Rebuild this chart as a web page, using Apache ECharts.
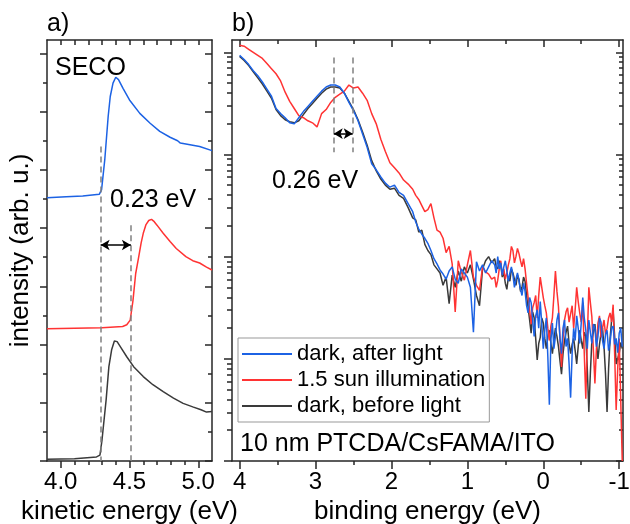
<!DOCTYPE html>
<html>
<head>
<meta charset="utf-8">
<title>SECO and HOMO region</title>
<script src="https://cdn.jsdelivr.net/npm/echarts@6/dist/echarts.min.js"></script>
<style>
  html, body { margin: 0; padding: 0; background: #fff; }
  #plot { width: 630px; height: 524px; }
</style>
</head>
<body>
<div id="plot"></div>
<script>
"use strict";

// a) secondary electron cut-off, kinetic energy (eV) vs. offset intensity
var keBlue = [3.90, 4.04, 4.16, 4.28, 4.297, 4.32, 4.345, 4.36, 4.38, 4.40, 4.42, 4.453, 4.50, 4.575, 4.65, 4.72, 4.795, 4.85, 4.87, 4.94, 5.01, 5.10];
var secoBlue = [4.52, 4.54, 4.55, 4.58, 4.66, 5.17, 5.92, 6.26, 6.49, 6.59, 6.55, 6.40, 6.20, 5.97, 5.80, 5.66, 5.56, 5.50, 5.46, 5.43, 5.40, 5.33];
var keRed = [3.90, 4.10, 4.30, 4.45, 4.48, 4.505, 4.525, 4.545, 4.565, 4.585, 4.60, 4.62, 4.64, 4.66, 4.68, 4.70, 4.745, 4.795, 4.84, 4.91, 4.96, 5.01, 5.06, 5.10];
var secoRed = [2.27, 2.28, 2.29, 2.31, 2.34, 2.42, 2.75, 3.22, 3.48, 3.75, 3.91, 4.06, 4.13, 4.15, 4.11, 4.05, 3.91, 3.77, 3.65, 3.51, 3.44, 3.40, 3.33, 3.28];
var keBlack = [3.90, 4.10, 4.26, 4.285, 4.30, 4.33, 4.35, 4.37, 4.39, 4.41, 4.44, 4.48, 4.53, 4.60, 4.67, 4.745, 4.82, 4.89, 4.96, 5.02, 5.06, 5.10];
var secoBlack = [0.03, 0.04, 0.07, 0.10, 0.36, 1.05, 1.62, 1.91, 2.06, 2.05, 1.94, 1.79, 1.62, 1.45, 1.31, 1.19, 1.08, 0.99, 0.93, 0.88, 0.84, 0.85];

// b) valence region, binding energy (eV) vs. log10 of the counts
var bindingEnergy = [4.00, 3.94, 3.88, 3.82, 3.76, 3.70, 3.64, 3.58, 3.52, 3.46, 3.40, 3.34, 3.28, 3.22, 3.16, 3.10, 3.04, 2.98, 2.92, 2.86,
  2.80, 2.74, 2.68, 2.62, 2.56, 2.50, 2.44, 2.38, 2.32, 2.26, 2.20, 2.14, 2.08, 2.02, 1.96, 1.90, 1.84, 1.78, 1.72,
  1.68, 1.64, 1.60, 1.56, 1.52, 1.48, 1.44, 1.40, 1.36, 1.32, 1.28, 1.24, 1.20, 1.16, 1.12, 1.08, 1.04, 1.00, 0.96, 0.92,
  0.88, 0.84, 0.80, 0.76, 0.72, 0.68,
  0.64, 0.62, 0.60, 0.58, 0.56, 0.54, 0.52, 0.50, 0.48, 0.46,
  0.44, 0.42, 0.40, 0.38, 0.36, 0.34, 0.32, 0.30, 0.28, 0.26,
  0.24, 0.22, 0.20, 0.18, 0.16, 0.14, 0.12, 0.10, 0.08, 0.06,
  0.04, 0.02, 0.00, -0.02, -0.04, -0.06, -0.08, -0.10, -0.12, -0.14,
  -0.16, -0.18, -0.20, -0.22, -0.24, -0.26, -0.28, -0.30, -0.32, -0.34,
  -0.36, -0.38, -0.40, -0.42, -0.44, -0.46, -0.48, -0.50, -0.52, -0.54,
  -0.56, -0.58, -0.60, -0.62, -0.64, -0.66, -0.68, -0.70, -0.72, -0.74,
  -0.76, -0.78, -0.80, -0.82, -0.84, -0.86, -0.88, -0.90, -0.92, -0.94,
  -0.96, -0.98, -1.00, -1.02, -1.04];
var logAfterLight = [3.97, 3.93, 3.88, 3.82, 3.77, 3.71, 3.64, 3.57, 3.45, 3.40, 3.36, 3.31, 3.30, 3.36, 3.42, 3.47, 3.52, 3.57, 3.62, 3.66,
  3.68, 3.68, 3.66, 3.60, 3.51, 3.43, 3.33, 3.20, 3.07, 2.91, 2.85, 2.78, 2.72, 2.68, 2.70, 2.63, 2.60, 2.52, 2.44,
  2.34, 2.27, 2.22, 2.18, 2.13, 2.06, 1.98, 1.93, 1.87, 1.83, 1.78, 1.86, 1.90, 1.78, 1.74, 1.88, 1.84, 1.80, 1.70, 1.26,
  1.95, 1.86, 1.92, 1.84, 1.90, 1.96,
  1.92, 1.84, 2.00, 1.88, 1.94, 1.82, 1.90, 1.96, 1.86, 1.76,
  1.84, 1.90, 1.82, 1.70, 1.78, 1.84, 1.76, 1.68, 1.62, 1.74,
  1.66, 1.52, 1.45, 1.60, 1.55, 1.38, 1.22, 1.42, 1.48, 1.30,
  1.56, 1.34, 1.10, 1.28, 1.40, 1.02, 0.55, 1.18, 1.35, 1.10,
  1.22, 1.38, 1.45, 1.20, 1.05, 1.30, 1.38, 1.12, 1.20, 0.95,
  0.62, 1.05, 1.30, 1.18, 1.42, 1.30, 1.15, 1.35, 1.60, 1.40,
  1.28, 1.10, 1.38, 1.26, 1.15, 1.34, 1.30, 1.12, 1.22, 1.40,
  1.36, 1.18, 1.10, 1.24, 1.28, 1.08, 1.16, 1.30, 1.32, 1.14,
  1.20, 1.06, 1.25, 1.30, 1.12];
var logIllumination = [4.07, 4.06, 4.03, 4.00, 3.97, 3.94, 3.89, 3.84, 3.79, 3.72, 3.61, 3.52, 3.45, 3.38, 3.36, 3.33, 3.31, 3.27, 3.40, 3.44,
  3.51, 3.56, 3.59, 3.62, 3.68, 3.65, 3.66, 3.60, 3.53, 3.40, 3.30, 3.15, 3.03, 2.92, 2.87, 2.82, 2.75, 2.71, 2.66,
  2.60, 2.56, 2.50, 2.44, 2.46, 2.52, 2.38, 2.26, 2.24, 2.18, 2.04, 2.10, 1.93, 1.46, 1.96, 1.85, 1.77, 1.92, 2.06, 1.80,
  1.72, 1.67, 1.90, 1.85, 1.83, 1.78,
  1.80, 1.70, 1.77, 1.88, 1.96, 1.82, 1.88, 1.78, 1.84, 1.92,
  1.98, 2.10, 2.06, 1.94, 2.00, 2.08, 2.03, 1.96, 1.90, 1.98,
  1.88, 1.74, 1.60, 1.48, 1.34, 1.50, 1.55, 1.62, 1.40, 1.62,
  1.80, 1.70, 1.60, 1.52, 1.45, 1.30, 1.18, 1.32, 1.40, 1.62,
  1.86, 1.66, 1.51, 1.20, 0.92, 1.20, 1.38, 1.46, 1.50, 1.36,
  1.44, 1.52, 1.30, 1.48, 1.70, 1.56, 1.45, 1.36, 1.55, 1.05,
  0.61, 1.20, 1.70, 1.55, 1.41, 1.08, 0.76, 1.10, 1.35, 1.42,
  1.21, 1.30, 1.38, 1.24, 1.30, 1.40, 1.45, 1.36, 1.53, 1.05,
  0.50, 0.90, 1.20, 0.60, 0.00];
var logBeforeLight = [3.96, 3.92, 3.87, 3.81, 3.75, 3.69, 3.62, 3.55, 3.44, 3.38, 3.34, 3.32, 3.31, 3.33, 3.39, 3.45, 3.50, 3.55, 3.60, 3.64,
  3.66, 3.66, 3.65, 3.60, 3.52, 3.44, 3.34, 3.22, 3.09, 2.94, 2.84, 2.76, 2.70, 2.66, 2.67, 2.60, 2.57, 2.48, 2.38,
  2.36, 2.24, 2.26, 2.12, 2.06, 2.02, 1.92, 1.88, 1.84, 1.72, 1.80, 1.54, 1.82, 1.70, 1.86, 1.76, 1.90, 1.84, 1.92, 1.78,
  1.62, 1.52, 1.88, 1.96, 2.00, 1.94,
  1.98, 1.90, 1.88, 1.96, 1.92, 1.80, 1.84, 1.74, 1.68, 1.80,
  1.76, 1.88, 1.84, 1.78, 1.72, 1.82, 1.78, 1.66, 1.70, 1.80,
  1.76, 1.62, 1.50, 1.38, 1.25, 1.46, 1.40, 1.20, 0.99, 1.15,
  1.21, 1.40, 1.35, 1.20, 1.10, 1.22, 1.28, 1.15, 1.05, 1.18,
  1.30, 1.22, 1.12, 0.98, 0.85, 1.05, 1.18, 1.26, 1.32, 1.15,
  1.05, 1.14, 1.20, 1.08, 0.95, 1.12, 1.28, 1.18, 1.10, 1.26,
  1.22, 0.90, 0.48, 0.86, 1.18, 1.26, 1.34, 1.16, 1.00, 1.14,
  1.25, 1.30, 1.12, 0.85, 0.48, 0.90, 1.20, 1.38, 1.47, 1.22,
  0.95, 1.00, 1.05, 1.16, 1.10];

var seriesNames = ['dark, after light', '1.5 sun illumination', 'dark, before light'];
var seriesColors = ['#1c62e4', '#ff3333', '#3a3a3a'];

// tick positions
var keMajor = [4.0, 4.5, 5.0];
var keMinor = [4.1, 4.2, 4.3, 4.4, 4.6, 4.7, 4.8, 4.9];
var keTop = [4.0, 4.1, 4.2, 4.3, 4.4, 4.5, 4.6, 4.7, 4.8, 4.9, 5.0];
var secoMajor = [0, 1, 2, 3, 4, 5, 6, 7];
var secoMinor = [0.5, 1.5, 2.5, 3.5, 4.5, 5.5, 6.5];
var beMajor = [-1, 0, 1, 2, 3, 4];
var beMinor = [-0.5, 0.5, 1.5, 2.5, 3.5];
var logMajor = [1, 10, 100, 1000, 10000];
var logMinor = [2, 3, 4, 5, 6, 7, 8, 9, 20, 30, 40, 50, 60, 70, 80, 90,
  200, 300, 400, 500, 600, 700, 800, 900, 2000, 3000, 4000, 5000, 6000, 7000, 8000, 9000];

// onsets marked with dashed lines, and where the dashes / arrows sit
var secoEdges = [4.29, 4.51];
var secoDashTop = [5.40, 4.05];
var secoArrowY = 3.71;
var homoEdges = [2.76, 2.51];
var homoDash = [8900, 1050];
var homoArrowY = 1600;

var ink = '#262626';
var font = 'Liberation Sans';

function pairs(xs, ys) {
  return xs.map(function (x, i) { return [x, ys[i]]; });
}
function counts(logs) {
  return bindingEnergy.map(function (be, i) { return [be, Math.pow(10, logs[i])]; });
}

function tickAxis(gridIndex, position, ticks, length, inside, showLine, extra) {
  var ax = {
    gridIndex: gridIndex,
    position: position,
    type: 'value',
    axisLine: { show: showLine, onZero: false, lineStyle: { color: ink, width: 1.5 } },
    axisTick: { show: true, inside: inside, length: length, customValues: ticks, lineStyle: { color: ink, width: 1.5 } },
    axisLabel: { show: false },
    splitLine: { show: false },
    minorTick: { show: false }
  };
  return Object.assign(ax, extra);
}

var keRange = { min: 3.9, max: 5.1 };
var secoRange = { min: 0, max: 7.23 };
var beRange = { min: -1.05, max: 4.1, inverse: true };
var logRange = { type: 'log', logBase: 10, min: 1, max: 13200 };

var xAxes = [
  tickAxis(0, 'bottom', keMajor, 7, false, true, Object.assign({
    axisLabel: { show: true, customValues: keMajor, fontSize: 24, color: '#000', margin: 9, fontFamily: font,
      formatter: function (v) { return v.toFixed(1); } },
    name: 'kinetic energy (eV)', nameLocation: 'middle', nameGap: 32,
    nameTextStyle: { fontSize: 26, color: '#000', fontFamily: font }
  }, keRange)),
  tickAxis(0, 'bottom', keMinor, 4, false, false, Object.assign({}, keRange)),
  tickAxis(0, 'top', keTop, 5, true, true, Object.assign({}, keRange)),
  tickAxis(1, 'bottom', beMajor, 8, false, true, Object.assign({
    axisLabel: { show: true, customValues: beMajor, fontSize: 24, color: '#000', margin: 9, fontFamily: font },
    name: 'binding energy (eV)', nameLocation: 'middle', nameGap: 32,
    nameTextStyle: { fontSize: 26, color: '#000', fontFamily: font }
  }, beRange)),
  tickAxis(1, 'bottom', beMinor, 4, false, false, Object.assign({}, beRange)),
  tickAxis(1, 'top', beMajor, 7, true, true, Object.assign({}, beRange)),
  tickAxis(1, 'top', beMinor, 4, true, false, Object.assign({}, beRange))
];

var yAxes = [
  tickAxis(0, 'left', secoMajor, 7, false, true, Object.assign({
    name: 'intensity (arb. u.)', nameLocation: 'middle', nameGap: 13,
    nameTextStyle: { fontSize: 26, color: '#000', fontFamily: font }
  }, secoRange)),
  tickAxis(0, 'left', secoMinor, 4, false, false, Object.assign({}, secoRange)),
  tickAxis(0, 'right', secoMajor, 7, true, true, Object.assign({}, secoRange)),
  tickAxis(0, 'right', secoMinor, 4, true, false, Object.assign({}, secoRange)),
  tickAxis(1, 'left', logMajor, 8, false, true, Object.assign({}, logRange)),
  tickAxis(1, 'left', logMinor, 5, false, false, Object.assign({}, logRange)),
  tickAxis(1, 'right', logMajor, 7, true, true, Object.assign({}, logRange)),
  tickAxis(1, 'right', logMinor, 4, true, false, Object.assign({}, logRange))
];

var dashStyle = { color: '#808080', width: 1.5, type: [6, 4] };
var arrowStyle = { color: '#000', width: 1.5, type: 'solid' };

function line(name, color, data, xIndex, yIndex, extra) {
  return Object.assign({
    name: name,
    type: 'line',
    xAxisIndex: xIndex,
    yAxisIndex: yIndex,
    data: data,
    symbol: 'none',
    lineStyle: { color: color, width: 1.5 },
    itemStyle: { color: color },
    animation: false
  }, extra || {});
}

function dashes(edges, tops, bottoms) {
  return {
    silent: true, symbol: 'none', label: { show: false }, lineStyle: dashStyle, animation: false,
    data: edges.map(function (x, i) { return [{ coord: [x, tops[i]] }, { coord: [x, bottoms[i]] }]; })
  };
}
function arrow(edges, y) {
  return {
    silent: true, symbol: ['arrow', 'arrow'], symbolSize: [8, 9], label: { show: false }, lineStyle: arrowStyle, animation: false,
    data: [[{ coord: [edges[0], y] }, { coord: [edges[1], y] }]]
  };
}

var series = [
  line('SECO ' + seriesNames[2], seriesColors[2], pairs(keBlack, secoBlack), 0, 0,
    { markLine: dashes(secoEdges, secoDashTop, [0, 0]) }),
  line('SECO ' + seriesNames[1], seriesColors[1], pairs(keRed, secoRed), 0, 0),
  line('SECO ' + seriesNames[0], seriesColors[0], pairs(keBlue, secoBlue), 0, 0,
    { markLine: arrow(secoEdges, secoArrowY) }),
  line(seriesNames[2], seriesColors[2], counts(logBeforeLight), 3, 4,
    { markLine: dashes(homoEdges, [homoDash[0], homoDash[0]], [homoDash[1], homoDash[1]]) }),
  line(seriesNames[1], seriesColors[1], counts(logIllumination), 3, 4),
  line(seriesNames[0], seriesColors[0], counts(logAfterLight), 3, 4,
    { markLine: arrow(homoEdges, homoArrowY) })
];

function label(text, x, y, size) {
  return {
    type: 'text', x: x, y: y, silent: true,
    style: { text: text, fontSize: size, fontFamily: font, fill: '#000', verticalAlign: 'middle', align: 'left' }
  };
}

var chart = echarts.init(document.getElementById('plot'), null, { renderer: 'canvas' });
chart.setOption({
  backgroundColor: '#fff',
  animation: false,
  textStyle: { fontFamily: font },
  grid: [
    { left: 47, top: 40, width: 165, height: 421, outerBoundsMode: 'none', containLabel: false },
    { left: 232, top: 40, width: 391, height: 421, outerBoundsMode: 'none', containLabel: false }
  ],
  xAxis: xAxes,
  yAxis: yAxes,
  legend: {
    data: seriesNames,
    left: 238, top: 338,
    orient: 'vertical',
    icon: 'rect',
    itemWidth: 50, itemHeight: 2, itemGap: 4,
    padding: [5, 4, 5, 4],
    borderColor: '#999', borderWidth: 1,
    backgroundColor: '#fff',
    selectedMode: false,
    textStyle: { fontSize: 22, color: '#000', fontFamily: font }
  },
  graphic: [
    label('a)', 47, 24, 25),
    label('b)', 232, 24, 25),
    label('SECO', 55, 68, 25),
    label('0.23 eV', 110, 200, 25),
    label('0.26 eV', 272, 181, 25),
    label('10 nm PTCDA/CsFAMA/ITO', 240, 444, 25)
  ],
  series: series
});
</script>
</body>
</html>
